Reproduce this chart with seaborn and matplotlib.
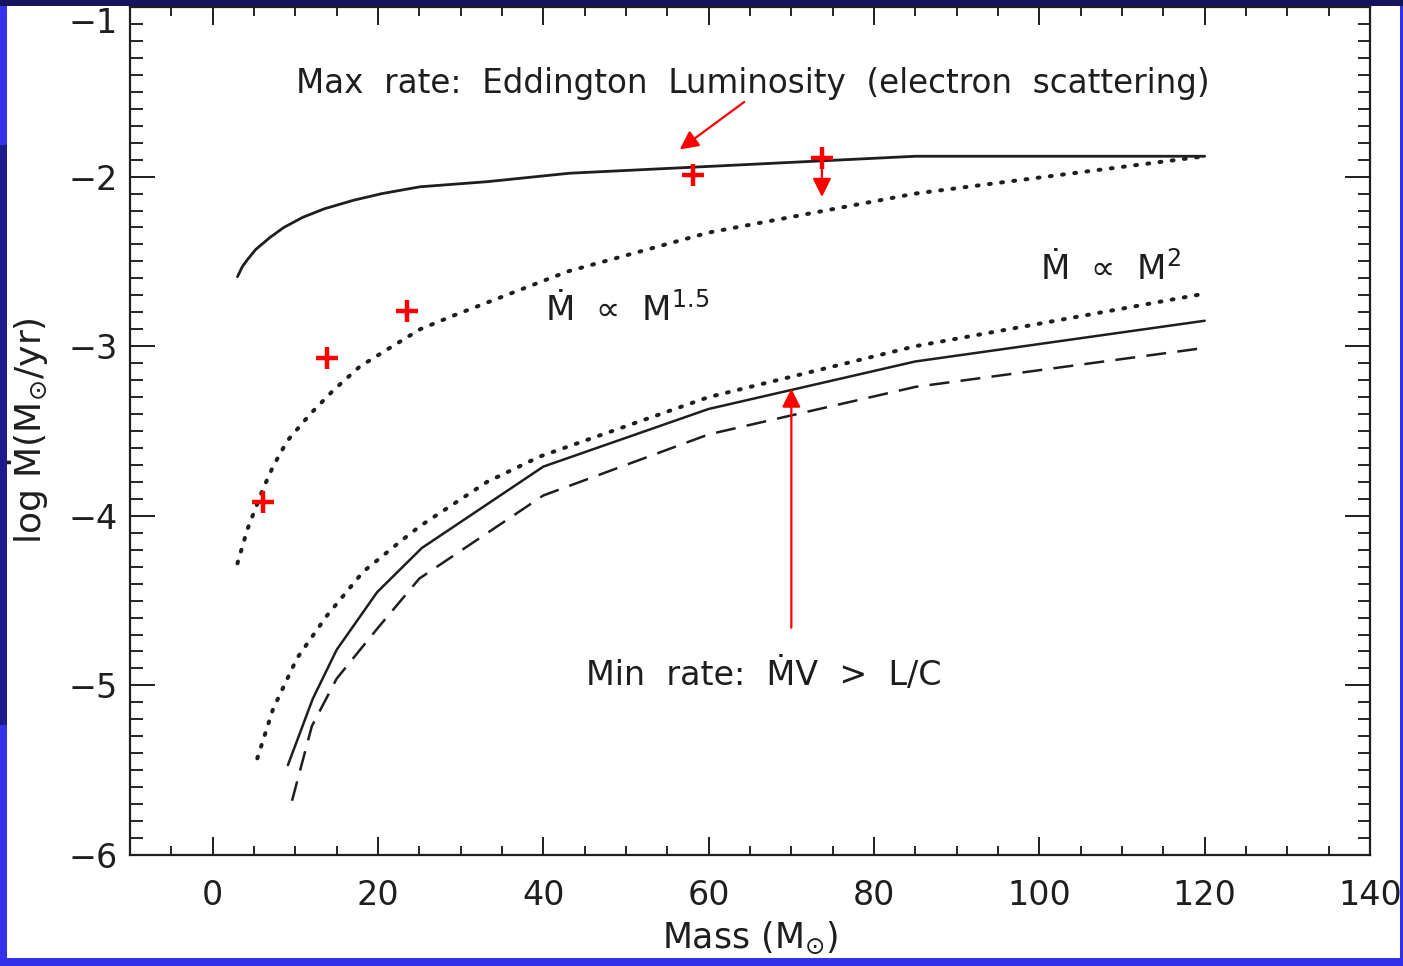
import numpy as np
import pandas as pd
import matplotlib
matplotlib.use("Agg")
import matplotlib.pyplot as plt
import seaborn as sns
from matplotlib.ticker import MultipleLocator
from matplotlib.patches import Rectangle

# ---- data ----
m_edd = [3, 3.6, 4.2, 5.2, 6.9, 8.6, 10.9, 13.5, 17, 20.5, 25.1, 33.2, 43.2, 60, 85, 120]
y_edd = [-2.59, -2.53, -2.49, -2.43, -2.36, -2.30, -2.24, -2.19, -2.14, -2.10, -2.06, -2.03, -1.98, -1.94, -1.88, -1.88]

m_p15 = [3, 4.2, 6.1, 7.3, 9, 11.8, 14.6, 17.8, 21.1, 25.1, 29.1, 42.9, 60, 85, 120]
y_p15 = [-4.28, -4.08, -3.84, -3.71, -3.56, -3.40, -3.26, -3.12, -3.02, -2.90, -2.82, -2.56, -2.33, -2.10, -1.88]

m_p2 = [5.4, 7.3, 10.2, 13.8, 18.2, 23.0, 25.1, 33.2, 39.6, 60, 85, 120]
y_p2 = [-5.43, -5.14, -4.84, -4.59, -4.33, -4.14, -4.06, -3.80, -3.65, -3.30, -3.00, -2.69]

m_min = [9.1, 12.1, 15.0, 19.9, 25.3, 40, 60, 85, 120]
y_min = [-5.47, -5.08, -4.79, -4.45, -4.19, -3.71, -3.37, -3.09, -2.85]

m_dash = [9.6, 12, 15, 20, 25, 40, 60, 85, 120]
y_dash = [-5.68, -5.24, -4.96, -4.66, -4.37, -3.88, -3.52, -3.24, -3.01]

obs_m = [6.1, 13.8, 23.5, 58.1, 73.7]
obs_y = [-3.92, -3.07, -2.79, -1.99, -1.89]

xticks = [0, 20, 40, 60, 80, 100, 120, 140]
yticks = [-6, -5, -4, -3, -2, -1]

sns.set_theme(style="ticks")
plt.rcParams['font.family'] = ['DejaVu Sans']
plt.rcParams['mathtext.fontset'] = 'dejavusans'

fig = plt.figure(figsize=(14.03, 9.66), dpi=100, facecolor='#3232ea')
# slide background: navy band on top, white panel
fig.patches.append(Rectangle((0, 1 - 6/966), 1, 6/966, transform=fig.transFigure,
                             facecolor='#15155e', edgecolor='none', zorder=-2))
fig.patches.append(Rectangle((0, 0.25), 7/1403, 0.6, transform=fig.transFigure,
                             facecolor='#1c1c8c', edgecolor='none', zorder=-2))
fig.patches.append(Rectangle((7/1403, 8/966), (1400-7)/1403, (958-6)/966,
                             transform=fig.transFigure, facecolor='white',
                             edgecolor='none', zorder=-1))

ax = fig.add_axes([130/1403, 111/966, 1240/1403, 848/966])
ax.set_facecolor('white')

ink = '#1e1e1e'
lw = 1.8
dots = (0, (0.45, 2.6))
df = pd.DataFrame({'m': m_edd, 'y': y_edd})
sns.lineplot(data=df, x='m', y='y', ax=ax, color=ink, lw=lw + 0.2, sort=False)
df = pd.DataFrame({'m': m_p15, 'y': y_p15})
sns.lineplot(data=df, x='m', y='y', ax=ax, color=ink, lw=2.9, sort=False,
             linestyle=dots, dash_capstyle='round')
df = pd.DataFrame({'m': m_p2, 'y': y_p2})
sns.lineplot(data=df, x='m', y='y', ax=ax, color=ink, lw=2.9, sort=False,
             linestyle=dots, dash_capstyle='round')
df = pd.DataFrame({'m': m_min, 'y': y_min})
sns.lineplot(data=df, x='m', y='y', ax=ax, color=ink, lw=lw, sort=False)
df = pd.DataFrame({'m': m_dash, 'y': y_dash})
sns.lineplot(data=df, x='m', y='y', ax=ax, color=ink, lw=lw, sort=False,
             linestyle=(0, (8, 4.5)))

sns.scatterplot(x=obs_m, y=obs_y, ax=ax, marker='+', s=230, color='red',
                linewidth=3.2, zorder=5)

arr = dict(arrowstyle='-|>', color='red', lw=1.6, mutation_scale=28, shrinkA=0, shrinkB=0)
ax.annotate('', xy=(56.5, -1.84), xytext=(64.3, -1.56), arrowprops=arr)
ax.annotate('', xy=(73.7, -2.12), xytext=(73.7, -1.93), arrowprops=arr)
ax.annotate('', xy=(70.0, -3.25), xytext=(70.0, -4.66), arrowprops=arr)

fs = 23.5
ax.text(10.1, -1.51, 'Max  rate:  Eddington  Luminosity  (electron  scattering)',
        fontsize=fs, ha='left', va='baseline', color=ink)
ax.text(40.2, -2.85, 'Ṁ  ∝  M$^{1.5}$', fontsize=fs + 1, ha='left', va='baseline', color=ink)
ax.text(100.1, -2.61, 'Ṁ  ∝  M$^{2}$', fontsize=fs + 1, ha='left', va='baseline', color=ink)
ax.text(45.2, -5.0, 'Min  rate:  ṀV  >  L/C', fontsize=fs + 0.5, ha='left', va='baseline', color=ink)

ax.set_xlim(-10, 140)
ax.set_ylim(-6, -1)
ax.set_xticks(xticks)
ax.set_yticks(yticks)
ax.set_xticklabels([str(t) for t in xticks])
ax.set_yticklabels(['\u2212' + str(abs(t)) for t in yticks])
ax.xaxis.set_minor_locator(MultipleLocator(5))
ax.yaxis.set_minor_locator(MultipleLocator(0.1))
ax.tick_params(axis='x', which='major', direction='in', length=13, width=1.4,
               top=True, bottom=True, labelsize=24, pad=17, colors=ink)
ax.tick_params(axis='x', which='minor', direction='in', length=6.5, width=1.4,
               top=True, bottom=True)
ax.tick_params(axis='y', which='major', direction='in', length=18, width=1.4,
               left=True, right=True, labelsize=24, pad=9, colors=ink)
ax.tick_params(axis='y', which='minor', direction='in', length=9, width=1.4,
               left=True, right=True)
ax.yaxis.get_major_ticks()[-1].label1.set_verticalalignment('top')
for s in ax.spines.values():
    s.set_linewidth(1.6)
    s.set_color(ink)

ax.set_xlabel('Mass (M$_{\\odot}$)', fontsize=25, labelpad=6, color=ink)
ax.set_ylabel('log Ṁ(M$_{\\odot}$/yr)', fontsize=26, labelpad=13, color=ink)

fig.savefig('out.png', dpi=100, facecolor=fig.get_facecolor())
